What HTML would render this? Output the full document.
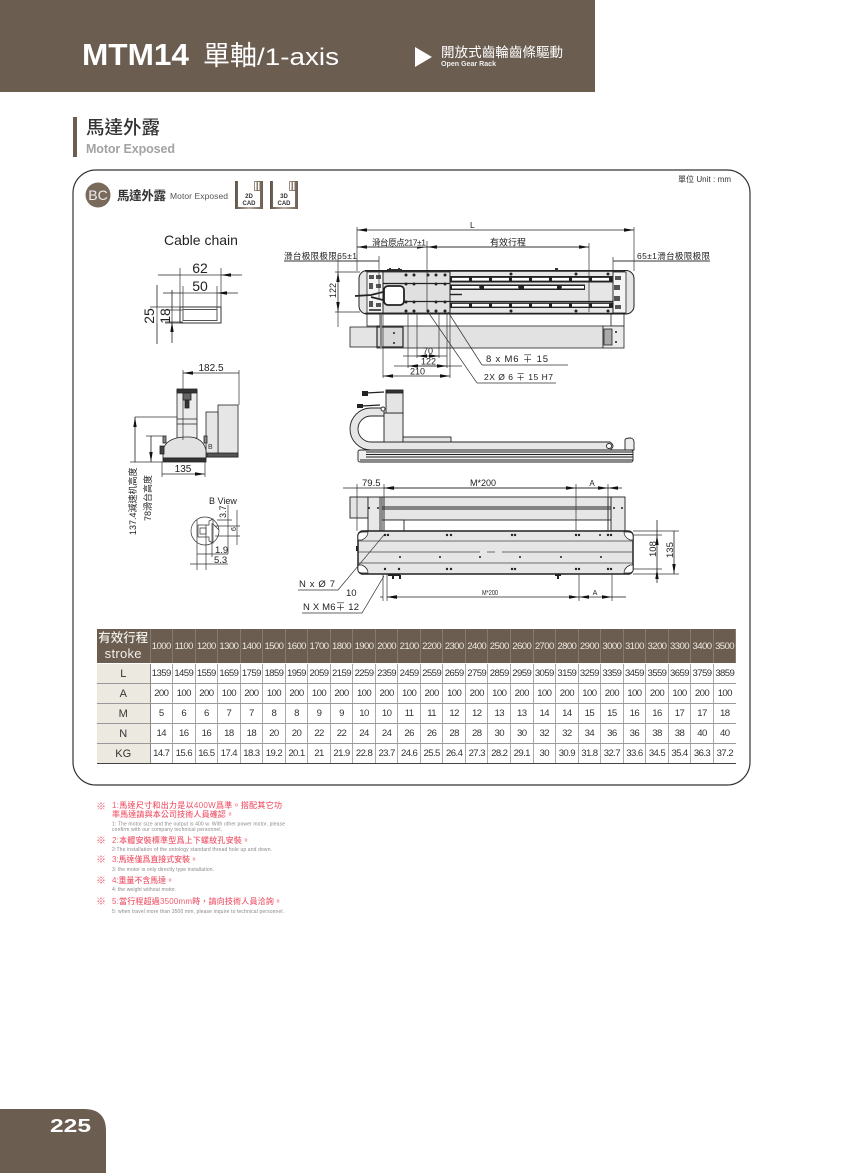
<!DOCTYPE html>
<html><head><meta charset="utf-8"><style>
html,body{margin:0;padding:0;background:#fff}
#p{position:relative;width:860px;height:1173px;overflow:hidden;background:#fff}
svg{position:absolute;left:0;top:0}
table{position:absolute;left:97px;top:629px;width:639px;border-collapse:collapse;table-layout:fixed;font-family:"Liberation Sans",sans-serif;font-size:9.6px;letter-spacing:-.6px;color:#333;text-align:center}
td,th{padding:0;border-right:1px solid #aaa;border-bottom:1px solid #999;font-weight:normal;height:19px;overflow:hidden;white-space:nowrap}
tr.h td{background:#6b5d50;color:#ece8e0;height:34px;border-right:1px solid #857a6e;border-bottom:1px solid #fff}
tr.h td.l{font-family:"Liberation Sans","Noto Sans CJK TC",sans-serif;font-size:12.5px;line-height:15px;letter-spacing:0;color:#f2efe9;font-weight:500}
tr.h td.l span{font-size:13px;letter-spacing:.3px;font-weight:normal}
td.k{background:#ece9e0;font-size:11px;letter-spacing:0;border-right:1px solid #888;color:#333}
tr:last-child td{border-bottom:1.5px solid #444}
td:last-child{border-right:0}
</style></head><body><div id="p">
<svg width="860" height="1173" viewBox="0 0 860 1173" xmlns="http://www.w3.org/2000/svg" font-family="'Liberation Sans','Noto Sans CJK TC',sans-serif">
<defs>
<marker id="a" viewBox="0 0 10 4" refX="10" refY="2" markerWidth="10" markerHeight="4" markerUnits="userSpaceOnUse" orient="auto-start-reverse"><path d="M0 .3L10 2L0 3.7z" fill="#111"/></marker>
<linearGradient id="g" x1="0" x2="1"><stop offset="0" stop-color="#5f5247"/><stop offset=".5" stop-color="#b9ab9d"/><stop offset="1" stop-color="#6b5d50"/></linearGradient>
</defs>
<!-- header -->
<rect width="595" height="92" fill="#6b5d50"/>
<text x="82" y="65" font-size="31" font-weight="bold" fill="#fff" textLength="107" lengthAdjust="spacingAndGlyphs">MTM14</text>
<text x="203" y="65" font-size="27" fill="#fff">單軸</text>
<text x="257" y="65" font-size="24.500" fill="#fff" textLength="82" lengthAdjust="spacingAndGlyphs">/1-axis</text>
<path d="M415 47L432 57L415 67z" fill="#fff"/>
<text x="441" y="57" font-size="13.500" fill="#fff" textLength="122">開放式齒輪齒條驅動</text>
<text x="441" y="66" font-size="7" font-weight="bold" fill="#eee" textLength="55" lengthAdjust="spacingAndGlyphs">Open Gear Rack</text>
<!-- section -->
<rect x="73" y="117" width="4" height="40" fill="#6b5d50"/>
<text x="86" y="134" font-size="18.500" font-weight="500" fill="#333">馬達外露</text>
<text x="86" y="153" font-size="12.500" font-weight="bold" fill="#a3a3a3" textLength="89">Motor Exposed</text>
<!-- panel -->
<rect x="73" y="170" width="677" height="615" rx="23" fill="#fff" stroke="#333" stroke-width="1.200"/>
<text x="678" y="182" font-size="8" fill="#333" textLength="53">單位 Unit : mm</text>
<circle cx="98" cy="195" r="12.500" fill="#7a6a5c"/>
<text x="98" y="200" font-size="14" fill="#eee" text-anchor="middle">BC</text>
<text x="117" y="200" font-size="12.500" font-weight="bold" fill="#333" textLength="49">馬達外露</text>
<text x="170" y="199" font-size="8.500" fill="#555" textLength="58">Motor Exposed</text>
<g>
<rect x="235" y="181" width="28" height="28" fill="url(#g)"/>
<rect x="238" y="181" width="16" height="10" fill="#fff"/><rect x="255" y="182" width="1.500" height="8" fill="#fff"/><rect x="258" y="182" width="1.500" height="8" fill="#fff"/>
<rect x="238" y="191" width="22" height="16" fill="#fff"/>
<text x="249" y="198" font-size="6" font-weight="bold" fill="#333" text-anchor="middle">2D</text>
<text x="249" y="205" font-size="6" font-weight="bold" fill="#333" text-anchor="middle">CAD</text>
<rect x="270" y="181" width="28" height="28" fill="url(#g)"/>
<rect x="273" y="181" width="16" height="10" fill="#fff"/><rect x="290" y="182" width="1.500" height="8" fill="#fff"/><rect x="293" y="182" width="1.500" height="8" fill="#fff"/>
<rect x="273" y="191" width="22" height="16" fill="#fff"/>
<text x="284" y="198" font-size="6" font-weight="bold" fill="#333" text-anchor="middle">3D</text>
<text x="284" y="205" font-size="6" font-weight="bold" fill="#333" text-anchor="middle">CAD</text>
</g>

<!-- cable chain section -->
<text x="164" y="245" font-size="14" fill="#222">Cable chain</text>
<g stroke="#333" stroke-width=".7" fill="none">
<path d="M180 268V307M221 268V307M183 286V309M217 286V309M150 307H180M165 323H180M165 310H183M165 322H183"/>
<path d="M180 275H221M183 293H217"/>
<path d="M157 307V323M172 310V322"/>
</g>
<g stroke="#222" stroke-width=".8" fill="none">
<path d="M158 275H180M242 275H221" marker-end="url(#a)"/>
<path d="M163 293H183M238 293H217" marker-end="url(#a)"/>
<path d="M157 285V307M157 344V323M172 290V310M172 343V322" marker-end="url(#a)"/>
</g>
<rect x="180" y="307" width="41" height="16" fill="none" stroke="#333"/>
<rect x="183" y="309.500" width="34" height="11" fill="#fff" stroke="#555"/>
<g font-size="14" fill="#222" font-family="'Liberation Sans',sans-serif">
<text x="200" y="273" text-anchor="middle">62</text>
<text x="200" y="291" text-anchor="middle">50</text>
<text transform="translate(154 316) rotate(-90)" text-anchor="middle">25</text>
<text transform="translate(170 316) rotate(-90)" text-anchor="middle">18</text>
</g>

<!-- end view -->
<g stroke="#222" stroke-width=".8" fill="#eee">
<rect x="218" y="405" width="20" height="52" fill="#e6e6e6"/>
<rect x="206" y="412" width="12" height="45" fill="#e6e6e6"/>
<rect x="207" y="453" width="31" height="4" fill="#555"/>
<rect x="177" y="390" width="20" height="48" fill="#ececec"/>
<rect x="177" y="389" width="20" height="4" fill="#333"/>
<rect x="183" y="393" width="8" height="7" fill="#666"/>
<path d="M185 400H189V408H185z" fill="#333"/>
<path d="M177 419H197M177 424H197" fill="none"/>
<path d="M163 458V450Q166 438 184 437H190Q203 438 206 450V458z" fill="#e2e2e2"/>
<rect x="163" y="458" width="43" height="4" fill="#333"/>
<rect x="160" y="446" width="4" height="8" fill="#444"/>
<rect x="204" y="436" width="3" height="7" fill="#888"/>
<rect x="163" y="436" width="3" height="7" fill="#888"/>
</g>
<text x="208" y="449" font-size="7" fill="#333" font-family="'Liberation Sans',sans-serif">B</text>
<g stroke="#333" stroke-width=".7" fill="none">
<path d="M183 370V440M239 370V405M162 462V477M205 462V477"/>
<path d="M135 417H177M130 462H163M146 436H163"/>
</g>
<g stroke="#222" stroke-width=".8" fill="none">
<path d="M183 373H239M162 474H205" marker-start="url(#a)" marker-end="url(#a)"/>
<path d="M135 417V462M151 436V462" marker-start="url(#a)" marker-end="url(#a)"/>
</g>
<g fill="#222">
<text x="211" y="371" text-anchor="middle" font-size="10">182.5</text>
<text x="183" y="472" text-anchor="middle" font-size="10">135</text>
<text transform="translate(136 535) rotate(-90)" font-size="9">137.4減速机高度</text>
<text transform="translate(151 521) rotate(-90)" font-size="9">78滑台高度</text>
<text x="209" y="504" font-size="9">B View</text>
</g>
<!-- B view -->
<g stroke="#333" stroke-width=".7" fill="none">
<circle cx="205" cy="531" r="14" fill="#fff"/>
<path d="M198 525H209V521L213 519V543L209 541V537H198z"/>
<path d="M200 528H206V534H200zM213 524L219 530"/>
<path d="M197 520V570M206 525V570M212 523V557M228 505V554M237 510V545M215 526H240M215 536H240M217 520H232M197 554H228M190 564H228"/>
</g>
<g fill="#222">
<text transform="translate(226 518) rotate(-90)" font-size="9">3.7</text>
<text transform="translate(236 531) rotate(-90)" font-size="7">6</text>
<text x="215" y="553" font-size="9.500">1.9</text>
<text x="214" y="563" font-size="9.500">5.3</text>
</g>

<!-- top view body -->
<g stroke="#222" stroke-width=".8">
<path d="M367 314V326H380V314zM611 314V326H624V314z" fill="#fff"/>
<rect x="350" y="327" width="27" height="20" fill="#e4e4e4"/>
<rect x="377" y="326" width="226" height="22" fill="#e2e2e2"/>
<rect x="377" y="327" width="26" height="20" fill="#d8d8d8" stroke-width="1.200"/>
<rect x="603" y="326" width="21" height="22" fill="#ececec"/>
<rect x="604" y="329" width="8" height="16" fill="#aaa"/>
<rect x="359" y="270.500" width="275" height="43.500" rx="8" fill="#e6e6e6" stroke-width="1"/>
<rect x="367" y="272" width="16" height="41" fill="#f4f4f4"/>
<rect x="613" y="272" width="13" height="41" fill="#f4f4f4"/>
<rect x="383" y="272" width="67" height="41" fill="#e0e0e0"/>
</g>
<path d="M381 314V348" stroke="#888" stroke-width="2"/>
<g fill="#333">
<rect x="389" y="268" width="2" height="3"/><rect x="398" y="268" width="2" height="3"/><rect x="387" y="269" width="15" height="2"/>
<rect x="555" y="268" width="3" height="3"/>
</g>
<g fill="#222">
<rect x="450" y="276" width="163" height="6.500"/>
<rect x="450" y="284.500" width="135" height="5.500"/>
<rect x="450" y="302.500" width="163" height="5.500"/>
</g>
<g stroke="#fff" stroke-width="2.800" fill="none" stroke-dasharray="17 3">
<path d="M452 279.250H612M452 305.250H612"/>
</g>
<path d="M452 287.250H480M484 287.250H520M524 287.250H557M561 287.250H584" stroke="#fff" stroke-width="2.600" fill="none"/>
<g stroke="#222" fill="none">
<path d="M365 271H625M365 313.500H625" stroke-width="1.600"/>
<path d="M383 271V314M450 271V314M613 271V314" stroke-width="1"/>
<path d="M383 283.500H450M383 301.500H613" stroke-width="1.200"/>
<path d="M450 294.500H462" stroke-width="1.400"/>
</g>
<rect x="384" y="286" width="20" height="19" rx="4" fill="#fff" stroke="#222" stroke-width="1.800"/>
<path d="M355 296L371 295L383 292M371 297L383 300" stroke="#222" stroke-width="1.800" fill="none"/>
<g fill="#555">
<rect x="369" y="275" width="5" height="4"/><rect x="376" y="275" width="5" height="4"/><rect x="369" y="283" width="4" height="6"/><rect x="376" y="284" width="5" height="4"/><rect x="369" y="301" width="4" height="6"/><rect x="376" y="303" width="5" height="4"/><rect x="369" y="309" width="12" height="2"/>
<rect x="615" y="276" width="6" height="4"/><rect x="614" y="285" width="6" height="5"/><rect x="614" y="296" width="6" height="5"/><rect x="615" y="305" width="6" height="4"/>
</g>
<g fill="#222">
<circle cx="406" cy="275" r="1.500"/><circle cx="414" cy="275" r="1.500"/><circle cx="428" cy="275" r="1.500"/><circle cx="436" cy="275" r="1.500"/><circle cx="445" cy="275" r="1.500"/>
<circle cx="406" cy="284" r="1.500"/><circle cx="414" cy="284" r="1.500"/><circle cx="436" cy="284" r="1.500"/><circle cx="445" cy="284" r="1.500"/>
<circle cx="406" cy="302" r="1.500"/><circle cx="414" cy="302" r="1.500"/><circle cx="436" cy="302" r="1.500"/><circle cx="445" cy="302" r="1.500"/>
<circle cx="406" cy="311" r="1.500"/><circle cx="414" cy="311" r="1.500"/><circle cx="428" cy="311" r="1.500"/><circle cx="436" cy="311" r="1.500"/><circle cx="445" cy="311" r="1.500"/>
<circle cx="511" cy="274" r="1.500"/><circle cx="576" cy="274" r="1.500"/><circle cx="608" cy="274" r="1.500"/>
<circle cx="511" cy="311" r="1.500"/><circle cx="576" cy="311" r="1.500"/><circle cx="608" cy="311" r="1.500"/>
<circle cx="481" cy="287" r="1.800"/><circle cx="520" cy="287" r="1.800"/><circle cx="560" cy="287" r="1.800"/>
<circle cx="394" cy="333" r="1"/><circle cx="394" cy="343" r="1"/><circle cx="616" cy="332" r="1"/><circle cx="616" cy="342" r="1"/>
</g>
<!-- top view dims -->
<g stroke="#333" stroke-width=".7" fill="none">
<path d="M357 227V271M634 227V271M427 241V312M589 243V312M379 256V300M613 257V300"/>
<path d="M338 258V272M338 312V327M335 272H360M335 312H360"/>
<path d="M383 314V378M450 314V378M408 314V368M447 314V368M417 314V358M439 314V358"/>
<path d="M482 365L448 312M568 365H482M477 383L428 312M556 383H477"/>
<path d="M284 261H379M613 261H710" stroke-width=".9"/>
<path d="M403 356H447M394 366H462"/>
</g>
<g stroke="#222" stroke-width=".8" fill="none">
<path d="M357 230H634" marker-start="url(#a)" marker-end="url(#a)"/>
<path d="M357 247H427" marker-start="url(#a)" marker-end="url(#a)"/>
<path d="M427 247H589" marker-start="url(#a)" marker-end="url(#a)"/>
<path d="M338 272V312" marker-start="url(#a)" marker-end="url(#a)"/>
<path d="M417 356H439" marker-start="url(#a)" marker-end="url(#a)"/>
<path d="M408 366H447" marker-start="url(#a)" marker-end="url(#a)"/>
<path d="M383 376H450" marker-start="url(#a)" marker-end="url(#a)"/>
</g>
<rect x="372" y="238" width="54" height="9" fill="#fff"/>
<rect x="490" y="238" width="36" height="9" fill="#fff"/>
<path d="M357 247H427M427 247H589" stroke="#222" stroke-width=".8"/>
<g fill="#222" font-size="9">
<text x="470" y="228" font-size="8.500">L</text>
<text x="372" y="245.500" font-size="8.500" textLength="54">滑台原点217±1</text>
<text x="490" y="245.500" font-size="9">有效行程</text>
<text x="284" y="259" font-size="8.500" textLength="73">滑台极限极限65±1</text>
<text x="637" y="259" font-size="8.500" textLength="73">65±1滑台极限极限</text>
<text transform="translate(336 298) rotate(-90)" font-size="9">122</text>
<text x="423" y="354" font-size="9">70</text>
<text x="421" y="364.500" font-size="9">122</text>
<text x="410" y="374.500" font-size="9">210</text>
<text x="486" y="362" font-size="9.500" textLength="62">8 x  M6 ∓ 15</text>
<text x="484" y="380" font-size="8.500" textLength="69">2X Ø  6 ∓ 15 H7</text>
</g>

<!-- side view -->
<g stroke="#222" stroke-width=".9">
<path d="M384 408H371A21 21 0 0 0 371 450H610Q616 446 610 442H371A13 13 0 0 1 371 416H384z" fill="#e6e6e6"/>
<rect x="384" y="413" width="19" height="29" fill="#e8e8e8"/>
<rect x="386" y="391" width="17" height="22" fill="#e4e4e4"/>
<rect x="386" y="390" width="17" height="3" fill="#333"/>
<rect x="403" y="437" width="48" height="5" fill="#e4e4e4"/>
<rect x="358" y="450" width="275" height="12" rx="2" fill="#eee"/>
<path d="M366 452H633M366 454.500H633M366 457H633M360 460H633" fill="none"/>
<path d="M625 450V440Q625 438 631 438Q634 439 634 442V450z" fill="#eee"/>
<circle cx="609" cy="446" r="2.500" fill="#fff"/>
<circle cx="383" cy="409" r="2" fill="#fff"/>
</g>
<path d="M366 393L384 392M362 406L380 405" stroke="#222" stroke-width="1.200"/>
<rect x="362" y="391" width="6" height="5" fill="#222"/><rect x="357" y="404" width="6" height="4" fill="#222"/>

<!-- bottom view -->
<g stroke="#222" stroke-width=".9">
<rect x="350" y="497" width="18" height="21" fill="#e4e4e4"/>
<rect x="368" y="497" width="14" height="34" fill="#e8e8e8"/>
<rect x="611" y="497" width="14" height="34" fill="#e8e8e8"/>
<rect x="382" y="497" width="229" height="23" fill="#e6e6e6"/>
<rect x="384" y="520" width="20" height="11" fill="#fff"/>
<path d="M380 497V531M384 497V531M608 497V531" fill="none"/>
<path d="M382 507H611M382 509H611" stroke-width="1.100" fill="none"/>
</g>
<rect x="358" y="531" width="275" height="43" rx="5" fill="#e6e6e6" stroke="#222" stroke-width="1.500"/>
<g stroke="#444" stroke-width=".7" fill="none">
<path d="M358 541H633M358 563H633"/>
<path d="M358 552H480M487 552H495M502 552H633"/>
</g>
<g fill="#fff" stroke="#222" stroke-width=".7">
<path d="M358 540V536Q358 532 363 532H368Q368 537 362 540zM633 540V536Q633 532 628 532H624Q624 537 630 540zM358 565V570Q358 573 363 573H368Q368 568 362 565zM633 565V570Q633 573 628 573H624Q624 568 630 565z"/>
</g>
<g fill="#222">
<circle cx="385" cy="535" r="1.200"/><circle cx="388" cy="535" r="1.200"/><circle cx="447" cy="535" r="1.200"/><circle cx="451" cy="535" r="1.200"/><circle cx="512" cy="535" r="1.200"/><circle cx="515" cy="535" r="1.200"/><circle cx="576" cy="535" r="1.200"/><circle cx="579" cy="535" r="1.200"/><circle cx="600" cy="535" r="1"/><circle cx="608" cy="535" r="1.200"/><circle cx="611" cy="535" r="1.200"/>
<circle cx="385" cy="569" r="1.200"/><circle cx="399" cy="569" r="1.200"/><circle cx="447" cy="569" r="1.200"/><circle cx="451" cy="569" r="1.200"/><circle cx="512" cy="569" r="1.200"/><circle cx="515" cy="569" r="1.200"/><circle cx="576" cy="569" r="1.200"/><circle cx="579" cy="569" r="1.200"/><circle cx="608" cy="569" r="1.200"/><circle cx="611" cy="569" r="1.200"/>
<circle cx="400" cy="557" r="1"/><circle cx="440" cy="557" r="1"/><circle cx="480" cy="557" r="1"/><circle cx="520" cy="557" r="1"/><circle cx="561" cy="557" r="1"/><circle cx="601" cy="557" r="1"/>
<circle cx="369" cy="508" r="1"/><circle cx="378" cy="508" r="1"/><circle cx="614" cy="508" r="1"/><circle cx="622" cy="508" r="1"/>
<rect x="356" y="546" width="2" height="5"/>
<rect x="388" y="574" width="12" height="2"/><rect x="392" y="575" width="2" height="4"/><rect x="399" y="575" width="2" height="4"/><rect x="555" y="574" width="6" height="2"/><rect x="557" y="575" width="2" height="4"/>
</g>
<g stroke="#333" stroke-width=".7" fill="none">
<path d="M357 484V531M384 484V531M576 484V531M608 484V531"/>
<path d="M633 535H662M633 569H662M633 531H679M633 574H679"/>
<path d="M383 574V601M387 574V601M579 574V601M612 574V601"/>
<path d="M298 590H338L384 535M302 613H362L384 576"/>
</g>
<g stroke="#222" stroke-width=".8" fill="none">
<path d="M343 488H357M398 488H384" marker-end="url(#a)"/>
<path d="M357 488H608"/>
<path d="M384 488H576" marker-start="url(#a)" marker-end="url(#a)"/>
<path d="M576 488H608" marker-end="url(#a)"/>
<path d="M622 488H608" marker-end="url(#a)"/>
<path d="M380 597H383M397 597H387" marker-end="url(#a)"/>
<path d="M387 597H579" marker-end="url(#a)" marker-start="url(#a)"/>
<path d="M579 597H612" marker-end="url(#a)" marker-start="url(#a)"/>
<path d="M626 597H612"/>
<path d="M657 520V535M657 583V569" marker-end="url(#a)"/>
<path d="M657 535V569M674 531V574" marker-start="url(#a)" marker-end="url(#a)"/>
</g>
<g fill="#222" font-size="9.500">
<text x="362" y="486">79.5</text>
<text x="483" y="486" text-anchor="middle" font-size="9">M*200</text>
<text x="592" y="486" text-anchor="middle" font-size="8">A</text>
<text x="490" y="595" text-anchor="middle" font-size="7" textLength="16" lengthAdjust="spacingAndGlyphs">M*200</text>
<text x="595" y="595" text-anchor="middle" font-size="7">A</text>
<text x="346" y="596" font-size="9.500">10</text>
<text x="299" y="587" font-size="9.500" textLength="36">N x Ø 7</text>
<text x="303" y="610" font-size="9.500" textLength="56">N X M6∓ 12</text>
<text transform="translate(656 557) rotate(-90)" font-size="9.500">108</text>
<text transform="translate(673 558) rotate(-90)" font-size="9.500">135</text>
</g>

<!-- notes -->
<g fill="#ef5a6e" font-size="8" font-weight="500">
<text x="96" y="810" font-size="10" font-weight="bold">※</text>
<text x="112" y="808" textLength="170">1:馬達尺寸和出力是以400W爲準。搭配其它功</text>
<text x="112" y="817" textLength="122">率馬達請與本公司技術人員確認。</text>
<text x="96" y="844" font-size="10" font-weight="bold">※</text>
<text x="112" y="843" textLength="138">2:本體安裝標準型爲上下螺紋孔安裝。</text>
<text x="96" y="863" font-size="10" font-weight="bold">※</text>
<text x="112" y="862" textLength="86">3:馬達僅爲直接式安裝。</text>
<text x="96" y="884" font-size="10" font-weight="bold">※</text>
<text x="112" y="883" textLength="62">4:重量不含馬達。</text>
<text x="96" y="905" font-size="10" font-weight="bold">※</text>
<text x="112" y="904" textLength="170">5:當行程超過3500mm時，請向技術人員洽詢。</text>
</g>
<g fill="#888" font-size="5">
<text x="112" y="825.500" textLength="173">1: The motor size and the output is 400 w. With other power motor, please</text>
<text x="112" y="831" textLength="110">confirm with our company technical personnel.</text>
<text x="112" y="851" textLength="160">2:The installation of the ontology standard thread hole up and down.</text>
<text x="112" y="871" textLength="102">3: the motor is only directly type installation.</text>
<text x="112" y="891" textLength="64">4: the weight without motor.</text>
<text x="112" y="913" textLength="172">5: when travel more than 3500 mm, please inquire to technical personnel.</text>
</g>

<!-- footer -->
<path d="M0 1109H84Q106 1109 106 1131V1173H0z" fill="#6b5d50"/>
<text x="50" y="1132" font-size="18" font-weight="bold" fill="#fff" textLength="41" lengthAdjust="spacingAndGlyphs">225</text>
</svg>

<table>
<colgroup><col style="width:53px">
<col span="26" style="width:22.54px">
</colgroup>
<tr class="h"><td class="l">有效行程<br><span>stroke</span></td><td>1000</td><td>1100</td><td>1200</td><td>1300</td><td>1400</td><td>1500</td><td>1600</td><td>1700</td><td>1800</td><td>1900</td><td>2000</td><td>2100</td><td>2200</td><td>2300</td><td>2400</td><td>2500</td><td>2600</td><td>2700</td><td>2800</td><td>2900</td><td>3000</td><td>3100</td><td>3200</td><td>3300</td><td>3400</td><td>3500</td></tr>
<tr><td class="k">L</td><td>1359</td><td>1459</td><td>1559</td><td>1659</td><td>1759</td><td>1859</td><td>1959</td><td>2059</td><td>2159</td><td>2259</td><td>2359</td><td>2459</td><td>2559</td><td>2659</td><td>2759</td><td>2859</td><td>2959</td><td>3059</td><td>3159</td><td>3259</td><td>3359</td><td>3459</td><td>3559</td><td>3659</td><td>3759</td><td>3859</td></tr>
<tr><td class="k">A</td><td>200</td><td>100</td><td>200</td><td>100</td><td>200</td><td>100</td><td>200</td><td>100</td><td>200</td><td>100</td><td>200</td><td>100</td><td>200</td><td>100</td><td>200</td><td>100</td><td>200</td><td>100</td><td>200</td><td>100</td><td>200</td><td>100</td><td>200</td><td>100</td><td>200</td><td>100</td></tr>
<tr><td class="k">M</td><td>5</td><td>6</td><td>6</td><td>7</td><td>7</td><td>8</td><td>8</td><td>9</td><td>9</td><td>10</td><td>10</td><td>11</td><td>11</td><td>12</td><td>12</td><td>13</td><td>13</td><td>14</td><td>14</td><td>15</td><td>15</td><td>16</td><td>16</td><td>17</td><td>17</td><td>18</td></tr>
<tr><td class="k">N</td><td>14</td><td>16</td><td>16</td><td>18</td><td>18</td><td>20</td><td>20</td><td>22</td><td>22</td><td>24</td><td>24</td><td>26</td><td>26</td><td>28</td><td>28</td><td>30</td><td>30</td><td>32</td><td>32</td><td>34</td><td>36</td><td>36</td><td>38</td><td>38</td><td>40</td><td>40</td></tr>
<tr><td class="k">KG</td><td>14.7</td><td>15.6</td><td>16.5</td><td>17.4</td><td>18.3</td><td>19.2</td><td>20.1</td><td>21</td><td>21.9</td><td>22.8</td><td>23.7</td><td>24.6</td><td>25.5</td><td>26.4</td><td>27.3</td><td>28.2</td><td>29.1</td><td>30</td><td>30.9</td><td>31.8</td><td>32.7</td><td>33.6</td><td>34.5</td><td>35.4</td><td>36.3</td><td>37.2</td></tr>
</table>
</div></body></html>
